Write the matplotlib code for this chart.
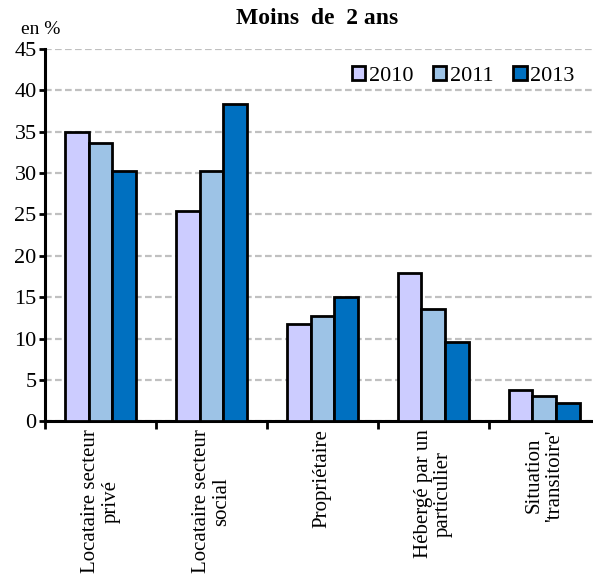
import numpy as np
import matplotlib.pyplot as plt

plt.rcParams['font.family'] = ['Liberation Serif', 'DejaVu Serif']

categories = ["Locataire secteur\nprivé", "Locataire secteur\nsocial", "Propriétaire",
              "Hébergé par un\nparticulier", "Situation\n'transitoire'"]
years = ["2010", "2011", "2013"]
v2010 = [35.0, 25.4, 11.8, 17.9, 3.8]
v2011 = [33.6, 30.3, 12.7, 13.6, 3.1]
v2013 = [30.2, 38.3, 15.0, 9.6, 2.2]
colors = ['#CCCCFF', '#9DC3E6', '#0070C0']

fig = plt.figure(figsize=(5.93, 5.77), dpi=100)
ax = fig.add_axes([0.076, 0.270, 0.924, 0.645])

x = np.arange(len(categories))
w = 0.213
for i, (vals, c, yr) in enumerate(zip([v2010, v2011, v2013], colors, years)):
    ax.bar(x + (i - 1) * w, vals, w, color=c, edgecolor='black', linewidth=2.0,
           label=yr, zorder=3)

ax.set_ylim(0, 45)
ax.set_yticks(range(0, 46, 5))
ax.set_xlim(-0.5, 4.44)
ax.yaxis.grid(True, color='#C0C0C0', linestyle=(0, (3, 1.5)), linewidth=1.6, zorder=0)

ax.set_xticks(np.arange(len(categories)) - 0.5)
ax.set_xticklabels([])
ax.tick_params(axis='x', length=6, width=2, direction='out')
ax.tick_params(axis='y', length=4, width=2, direction='out', labelsize=16, pad=2)
for xi, lab in zip(x, categories):
    ax.text(xi, -0.022, lab, transform=ax.get_xaxis_transform(), rotation=90,
            ha='center', va='top', fontsize=15, linespacing=1.1)

for s in ['top', 'right']:
    ax.spines[s].set_visible(False)
ax.spines['left'].set_linewidth(2.2)
ax.spines['bottom'].set_linewidth(2.2)

fig.text(0.535, 0.968, "Moins  de  2 ans", ha='center', va='center', fontsize=17,
         fontweight='bold')
fig.text(0.035, 0.949, "en %", ha='left', va='center', fontsize=14)

leg = ax.legend(loc='center', bbox_to_anchor=(0.763, 0.927), ncol=3, frameon=False,
                fontsize=16, handlelength=0.6, handleheight=0.6, handletextpad=0.15,
                columnspacing=0.9, borderaxespad=0)

fig.savefig('out.png', dpi=100)
